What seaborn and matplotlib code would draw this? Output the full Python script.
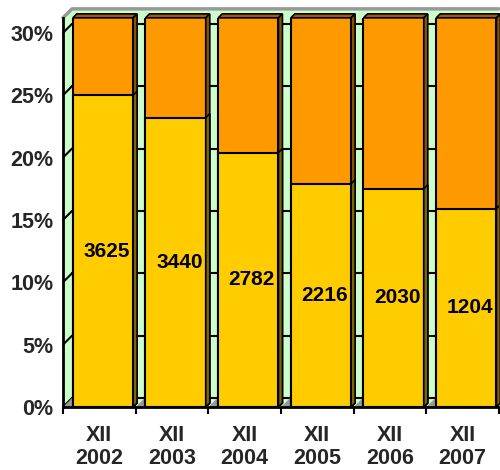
import numpy as np
import pandas as pd
import matplotlib
matplotlib.use('Agg')
import matplotlib.pyplot as plt
import seaborn as sns
from matplotlib.patches import Polygon

# data
months = ['XII', 'XII', 'XII', 'XII', 'XII', 'XII']
years = ['2002', '2003', '2004', '2005', '2006', '2007']
share = [25.0, 23.2, 20.4, 17.9, 17.5, 15.9]   # yellow part, % of total
counts = [3625, 3440, 2782, 2216, 2030, 1204]
total = [100, 100, 100, 100, 100, 100]
yticks = [0, 5, 10, 15, 20, 25, 30]

yellow = '#FFCC00'
orange = '#FF9900'
wall = '#CCFFCC'

sns.set_theme(style='white')
plt.rcParams['font.family'] = ['Liberation Sans', 'DejaVu Sans']
plt.rcParams['font.weight'] = 'bold'

df = pd.DataFrame({'label': [m + '\n' + y for m, y in zip(months, years)],
                   'share': share, 'total': total, 'count': counts})

fig = plt.figure(figsize=(5, 4.7), dpi=100)
ax = fig.add_axes([0.126, 0.134, 0.872, 0.828])
ax.set_facecolor(wall)

# 100% bars (orange) then the yellow share in front
sns.barplot(data=df, x='label', y='total', color=orange, width=0.83,
            saturation=1, edgecolor='black', linewidth=1.5, ax=ax, zorder=2)
sns.barplot(data=df, x='label', y='share', color=yellow, width=0.83,
            saturation=1, edgecolor='black', linewidth=1.5, ax=ax, zorder=3)

ax.set_xlim(-0.5, len(years) - 0.5)
ax.set_ylim(0, 31.2)
top = 31.2

# fake 3D depth
dx, dy = 0.055, 0.32      # bar depth
wx, wy = 0.124, 0.72      # back wall depth

n = len(years)
for i, p in enumerate(ax.patches):
    p.set_x(p.get_x() + 0.05)
    x0 = p.get_x()
    x1 = x0 + p.get_width()
    y0 = p.get_y()
    y1 = min(y0 + p.get_height(), top)
    if i < n:
        side = '#8A5200'
        ax.add_patch(Polygon([(x0, top), (x0 + dx, top + dy), (x1 + dx, top + dy), (x1, top)],
                             closed=True, fc='#A05F00', ec='black', lw=1.2,
                             clip_on=False, zorder=4))
    else:
        side = '#806600'
    ax.add_patch(Polygon([(x1, y0), (x1 + dx, y0 + dy), (x1 + dx, y1 + dy), (x1, y1)],
                         closed=True, fc=side, ec='black', lw=1.2,
                         clip_on=(i >= n), zorder=4 if i < n else 5))

# back wall gridlines and side wall diagonals
for t in yticks:
    ax.plot([-0.5 + wx, n - 0.5], [t + wy, t + wy], color='black', lw=1.5, zorder=1)
    ax.plot([-0.5, -0.5 + wx], [t, t + wy], color='black', lw=1.5, zorder=1, clip_on=False)

# floor shading
for i in range(n):
    ax.add_patch(Polygon([(i - 0.5, 0), (i - 0.5 + wx, wy), (i + 0.5, wy), (i + 0.5, 0)],
                         closed=True, fc='#999999', ec='none', zorder=1.5))

# wall strip above the plot and its top edge
ax.add_patch(Polygon([(-0.5, top), (-0.5 + wx, top + wy), (n - 0.5, top + wy), (n - 0.5, top)],
                     closed=True, fc=wall, ec='none', clip_on=False, zorder=1))
ax.plot([-0.5, -0.5 + wx, n - 0.5], [top, top + wy, top + wy], color='#999999',
        lw=2.5, clip_on=False, zorder=1.2)

# value labels
for i, (s, c) in enumerate(zip(share, counts)):
    ax.text(i + 0.1, s / 2, str(c), ha='center', va='center',
            fontsize=15, fontweight='bold', color='black', zorder=6)

for side_name in ['top', 'right']:
    ax.spines[side_name].set_visible(False)
for side_name in ['left', 'bottom']:
    ax.spines[side_name].set_color('black')
    ax.spines[side_name].set_linewidth(2)
    ax.spines[side_name].set_zorder(7)

ax.set_yticks(yticks)
ax.set_yticklabels([f'{t}%' for t in yticks])
ax.tick_params(axis='y', direction='out', length=5, width=1.5, color='black',
               pad=2, labelsize=15.5)
ax.set_xticks(range(n))
ax.set_xticks(np.arange(-0.5, n, 1), minor=True)
ax.tick_params(axis='x', which='major', length=0, pad=13, labelsize=15.5)
ax.tick_params(axis='x', which='minor', direction='out', length=5, width=1.5,
               color='black', bottom=True)
for lbl in ax.get_xticklabels() + ax.get_yticklabels():
    lbl.set_fontweight('bold')
    lbl.set_linespacing(1.15)
ax.set_xlabel('')
ax.set_ylabel('')

fig.savefig('out.png', dpi=100)
